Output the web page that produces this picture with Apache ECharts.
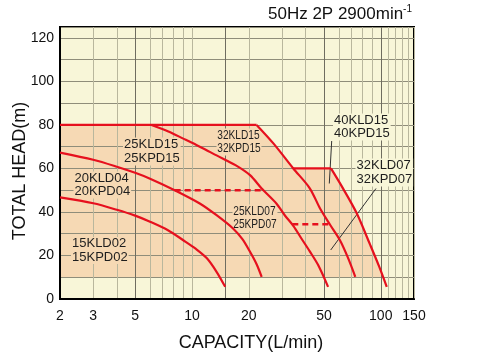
<!DOCTYPE html>
<html>
<head>
<meta charset="utf-8">
<script src="https://cdn.jsdelivr.net/npm/echarts@6/dist/echarts.min.js"></script>
<style>
html,body{margin:0;padding:0;background:#fff;}
#chart{width:480px;height:355px;}
</style>
</head>
<body>
<div id="chart"></div>
<script>
// ---- data ----
const xGridValues = [2,3,4,5,6,7,8,9,10,15,20,30,40,50,60,70,80,90,100,110,120,130,140,150];
const xDarkValues = [5,15,50,100];
const xLabelValues = [2,3,5,10,20,50,100,150];
const yLabelValues = [0,20,40,60,80,100,120];

const flat80 = [[2,80],[22,80]];
const curve32KLD15 = [[22,80],[27,71.5],[34.4,60],[42,51],[47.7,41.6],[54,34],[60.8,27],[67,19],[73.3,10.2]];
const flat60 = [[34.4,60],[54.5,60]];
const curve40KLD15 = [[54.5,60],[63.4,50.5],[74.5,39.5],[87.8,25],[98,15],[107.6,5.6]];
const curve25KLD15 = [[6.1,80],[7.5,77],[9,73.7],[11,70],[13.5,66],[17,61.5],[20.3,56.9],[23.4,50.8],[28,43.9],[31,38.5],[34.5,33.5],[38,27.8],[42,22],[46.6,15.6],[52.6,5.6]];
const curve20KLD04 = [[2,67.3],[3,64],[4,60.8],[5,58],[6,55.3],[8.1,50],[11,43.9],[13.5,38.5],[16.5,32.4],[18.5,27.5],[20.3,21.7],[22,16],[23.4,10.2]];
const curve15KLD02 = [[2,46.7],[3,44],[4,41],[5,38.3],[6,35.5],[7.5,31.5],[9,27],[10.5,23],[12,18.7],[13.5,12.5],[15,5.6]];
const dashed50 = [[8.1,50],[23.4,50]];
const dashed34 = [[34,34.4],[54,34.4]];
const shadedRegion = [[2,80],[22,80],[27,71.5],[34.4,60],[54.5,60],[63.4,50.5],[74.5,39.5],[87.8,25],[98,15],[103,10]];

const labels = [
  {text:'15KLD02\n15KPD02', bg:'peach'},
  {text:'20KLD04\n20KPD04', bg:'peach'},
  {text:'25KLD15\n25KPD15', bg:'peach'},
  {text:'32KLD15\n32KPD15', bg:'peach'},
  {text:'25KLD07\n25KPD07', bg:'peach'},
  {text:'40KLD15\n40KPD15', bg:'yellow'},
  {text:'32KLD07\n32KPD07', bg:'yellow'}
];

// ---- styles / layout ----
const RED = '#e6101e';
const YELLOW = '#f8f6d8';
const PEACH = '#f6d9b4';
const GRIDC = '#8f8d7a';
const LIGHTV = '#b9b79d';
const DARKV = '#6f6d60';
const FONT = '"Liberation Sans", Arial, sans-serif';

const labelLayout = [
  {x:71, y:237, lh:13.5, sx:1},
  {x:73.5, y:171.5, lh:13.5, sx:1},
  {x:123, y:137.5, lh:14, sx:1},
  {x:216.5, y:128.5, lh:13.5, sx:0.78},
  {x:232.5, y:204.5, lh:13.5, sx:0.78},
  {x:333, y:113.5, lh:13.5, sx:1},
  {x:355.5, y:158.5, lh:14, sx:1}
];

const chart = echarts.init(document.getElementById('chart'), null, {renderer:'canvas'});

function redLine(data, dashed) {
  return {
    type:'line', data:data, showSymbol:false, symbol:'none', silent:true,
    smooth: dashed ? false : 0.3, z:20, animation:false,
    lineStyle:{color:RED, width: dashed ? 2.5 : 2.2, type: dashed ? [6,4] : 'solid'}
  };
}

const graphics = [];
labels.forEach((l, i) => {
  const p = labelLayout[i];
  graphics.push({
    type:'text', z:10, x:p.x, y:p.y, scaleX:p.sx, silent:true,
    style:{
      text:l.text, font:'13px ' + FONT, fill:'#1e1e1e', lineHeight:p.lh,
      backgroundColor: l.bg === 'peach' ? PEACH : YELLOW, padding:[0,1,0,1]
    }
  });
});
graphics.push({type:'line', z:11, silent:true, shape:{x1:331.7,y1:141,x2:329.3,y2:183.5}, style:{stroke:'#333', lineWidth:1}});
graphics.push({type:'line', z:11, silent:true, shape:{x1:376,y1:188.5,x2:330.7,y2:250}, style:{stroke:'#333', lineWidth:1}});
graphics.push({
  type:'text', z:10, x:412, y:4, silent:true,
  style:{
    text:'{a|50Hz 2P 2900min}{s|-1}', align:'right', fill:'#111',
    rich:{
      a:{fontSize:17, fontFamily:FONT, fill:'#111', lineHeight:20},
      s:{fontSize:10, fontFamily:FONT, fill:'#111', verticalAlign:'top', lineHeight:20, padding:[0,0,9,0]}
    }
  }
});

const option = {
  animation:false,
  backgroundColor:'#ffffff',
  grid:{left:60, top:27, width:354, height:272, show:true, backgroundColor:YELLOW, borderColor:'#000', borderWidth:2, z:0,
    containLabel:false, outerBoundsMode:'none'},
  xAxis:{
    type:'log', logBase:10, min:2, max:150, z:5,
    name:'CAPACITY(L/min)', nameLocation:'middle', nameGap:35, nameMoveOverlap:false,
    nameTextStyle:{fontSize:18, fontFamily:FONT, color:'#111', padding:[0,0,0,28]},
    axisLine:{show:true, lineStyle:{color:'#000', width:2}},
    axisTick:{show:false, customValues:xGridValues},
    axisLabel:{customValues:xLabelValues, fontSize:14, fontFamily:FONT, color:'#111', margin:10,
      formatter:v => String(Math.round(v))},
    splitLine:{show:true, lineStyle:{width:1, color:xGridValues.map(v => xDarkValues.indexOf(v) >= 0 ? DARKV : LIGHTV)}},
    minorTick:{show:false}, minorSplitLine:{show:false}
  },
  yAxis:{
    type:'value', min:0, max:125, interval:10, z:5,
    name:'TOTAL HEAD(m)', nameLocation:'middle', nameGap:31, nameMoveOverlap:false,
    nameTextStyle:{fontSize:18, fontFamily:FONT, color:'#111', padding:[0,16,0,0]},
    axisLine:{show:true, lineStyle:{color:'#000', width:2}},
    axisTick:{show:false},
    axisLabel:{fontSize:14, fontFamily:FONT, color:'#111', margin:6,
      formatter:v => yLabelValues.indexOf(v) >= 0 ? String(v) : ''},
    splitLine:{show:true, lineStyle:{color:GRIDC, width:1}}
  },
  graphic:{elements:graphics},
  series:[
    {
      type:'line', data:shadedRegion, showSymbol:false, symbol:'none', silent:true, z:2, animation:false,
      lineStyle:{width:0, opacity:0}, areaStyle:{color:PEACH, opacity:1, origin:10}
    },
    redLine(flat80),
    redLine(curve32KLD15),
    redLine(flat60),
    redLine(curve40KLD15),
    redLine(curve25KLD15),
    redLine(curve20KLD04),
    redLine(curve15KLD02),
    redLine(dashed50, true),
    redLine(dashed34, true)
  ]
};
chart.setOption(option);
</script>
</body>
</html>
